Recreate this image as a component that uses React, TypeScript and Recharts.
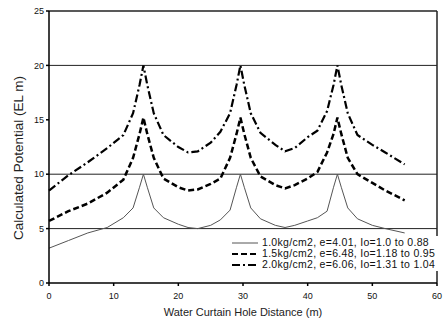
import React from "react";
import {
  LineChart,
  Line,
  XAxis,
  YAxis,
  ReferenceLine,
} from "recharts";

// distance along the curtain (m)
const distance = [
  0, 3, 6, 9, 11.5, 13, 14, 14.6, 15.2, 16.2, 17.7, 20, 21.5, 23, 25, 26.5, 28, 29,
  29.6, 30.2, 31.2, 32.7, 35, 36.5, 38, 40, 41.5, 43, 44, 44.6, 45.2, 46.2, 47.7, 50,
  52, 55,
];

// 1.0kg/cm2
const p10 = [
  3.2, 3.9, 4.6, 5.1, 6.0, 6.9, 8.8, 10.0, 8.8, 6.9, 6.0, 5.4, 5.1, 5.0, 5.3, 5.8, 6.7,
  8.8, 10.0, 8.8, 6.9, 5.9, 5.3, 5.1, 5.3, 5.7, 6.0, 6.6, 8.8, 10.0, 8.8, 6.9, 5.9, 5.3,
  5.0, 4.6,
];

// 1.5kg/cm2
const p15 = [
  5.7, 6.6, 7.3, 8.3, 9.5, 11.5, 13.7, 15.2, 13.7, 11.5, 9.6, 8.8, 8.5, 8.6, 9.1, 9.6,
  11.5, 13.7, 15.2, 13.7, 11.5, 9.8, 9.0, 8.7, 9.0, 9.6, 10.2, 12.0, 13.7, 15.2, 13.7,
  11.5, 10.0, 9.2, 8.5, 7.6,
];

// 2.0kg/cm2
const p20 = [
  8.5, 9.9, 11.1, 12.4, 13.6, 15.6, 18.2, 20, 18.2, 15.6, 13.6, 12.5, 12.0, 12.1, 12.9,
  13.9, 15.6, 18.2, 20, 18.2, 15.6, 13.8, 12.7, 12.1, 12.4, 13.4, 14.0, 15.8, 18.2, 20,
  18.2, 15.6, 13.6, 12.7, 12.0, 10.9,
];

const seriesNames = [
  "1.0kg/cm2, e=4.01, Io=1.0 to 0.88",
  "1.5kg/cm2, e=6.48, Io=1.18 to 0.95",
  "2.0kg/cm2, e=6.06, Io=1.31 to 1.04",
];

const xTicks = [0, 10, 20, 30, 40, 50, 60];
const yTicks = [0, 5, 10, 15, 20, 25];
const gridLevels = [5, 10, 20];

const data = distance.map((d, i) => ({ d, a: p10[i], b: p15[i], c: p20[i] }));

const FONT = "'Liberation Sans', Arial, sans-serif";

const styles = [
  { stroke: "#555", width: 1, dash: undefined as string | undefined },
  { stroke: "#000", width: 2.5, dash: "6 3" },
  { stroke: "#000", width: 2.2, dash: "8 3 2 3" },
];

// legend drawn over the plot, bottom right
function LegendBox() {
  return (
    <div
      style={{
        position: "absolute",
        left: 229,
        top: 236,
        background: "#fff",
        fontFamily: FONT,
        fontSize: 10.5,
        letterSpacing: 0.3,
        color: "#111",
        padding: "1px 3px",
        lineHeight: "11px",
      }}
    >
      {seriesNames.map((n, i) => (
        <div key={n} style={{ display: "flex", alignItems: "center", whiteSpace: "nowrap" }}>
          <svg width={26} height={8} style={{ marginRight: 4 }}>
            <line
              x1={0}
              y1={4}
              x2={26}
              y2={4}
              stroke={styles[i].stroke}
              strokeWidth={i === 0 ? 1 : 2}
              strokeDasharray={styles[i].dash}
            />
          </svg>
          {n}
        </div>
      ))}
    </div>
  );
}

export default function App() {
  return (
    <div style={{ position: "absolute", left: 0, top: 0, width: 446, height: 322, background: "#fff" }}>
      <LineChart
        width={446}
        height={322}
        data={data}
        margin={{ top: 11, right: 9, left: 0, bottom: 0 }}
      >
        {gridLevels.map((v) => (
          <ReferenceLine key={v} y={v} stroke="#222" strokeWidth={1} />
        ))}
        <ReferenceLine y={25} stroke="#222" strokeWidth={1.5} />
        <ReferenceLine x={60} stroke="#222" strokeWidth={1.5} />
        <XAxis
          dataKey="d"
          type="number"
          domain={[0, 60]}
          ticks={xTicks}
          height={39}
          stroke="#000"
          strokeWidth={1.5}
          tickSize={3}
          tick={{ fontSize: 9, fill: "#111", fontFamily: FONT, dy: 5 }}
          label={{
            value: "Water Curtain Hole Distance (m)",
            position: "insideBottom",
            offset: 6,
            fontSize: 11,
            fill: "#222",
            fontFamily: FONT,
          }}
        />
        <YAxis
          type="number"
          domain={[0, 25]}
          ticks={yTicks}
          width={49}
          stroke="#000"
          strokeWidth={1.5}
          tickSize={3}
          tick={{ fontSize: 9, fill: "#111", fontFamily: FONT }}
          label={{
            content: () => (
              <text
                x={23}
                y={158}
                transform="rotate(-90 23 158)"
                textAnchor="middle"
                fontSize={13.5}
                fill="#222"
                fontFamily={FONT}
              >
                Calculated Potential (EL m)
              </text>
            ),
          }}
        />
        <Line
          dataKey="a"
          name={seriesNames[0]}
          type="linear"
          stroke={styles[0].stroke}
          strokeWidth={styles[0].width}
          dot={false}
          isAnimationActive={false}
        />
        <Line
          dataKey="b"
          name={seriesNames[1]}
          type="linear"
          stroke={styles[1].stroke}
          strokeWidth={styles[1].width}
          strokeDasharray={styles[1].dash}
          dot={false}
          isAnimationActive={false}
        />
        <Line
          dataKey="c"
          name={seriesNames[2]}
          type="linear"
          stroke={styles[2].stroke}
          strokeWidth={styles[2].width}
          strokeDasharray={styles[2].dash}
          dot={false}
          isAnimationActive={false}
        />
      </LineChart>
      <LegendBox />
    </div>
  );
}
